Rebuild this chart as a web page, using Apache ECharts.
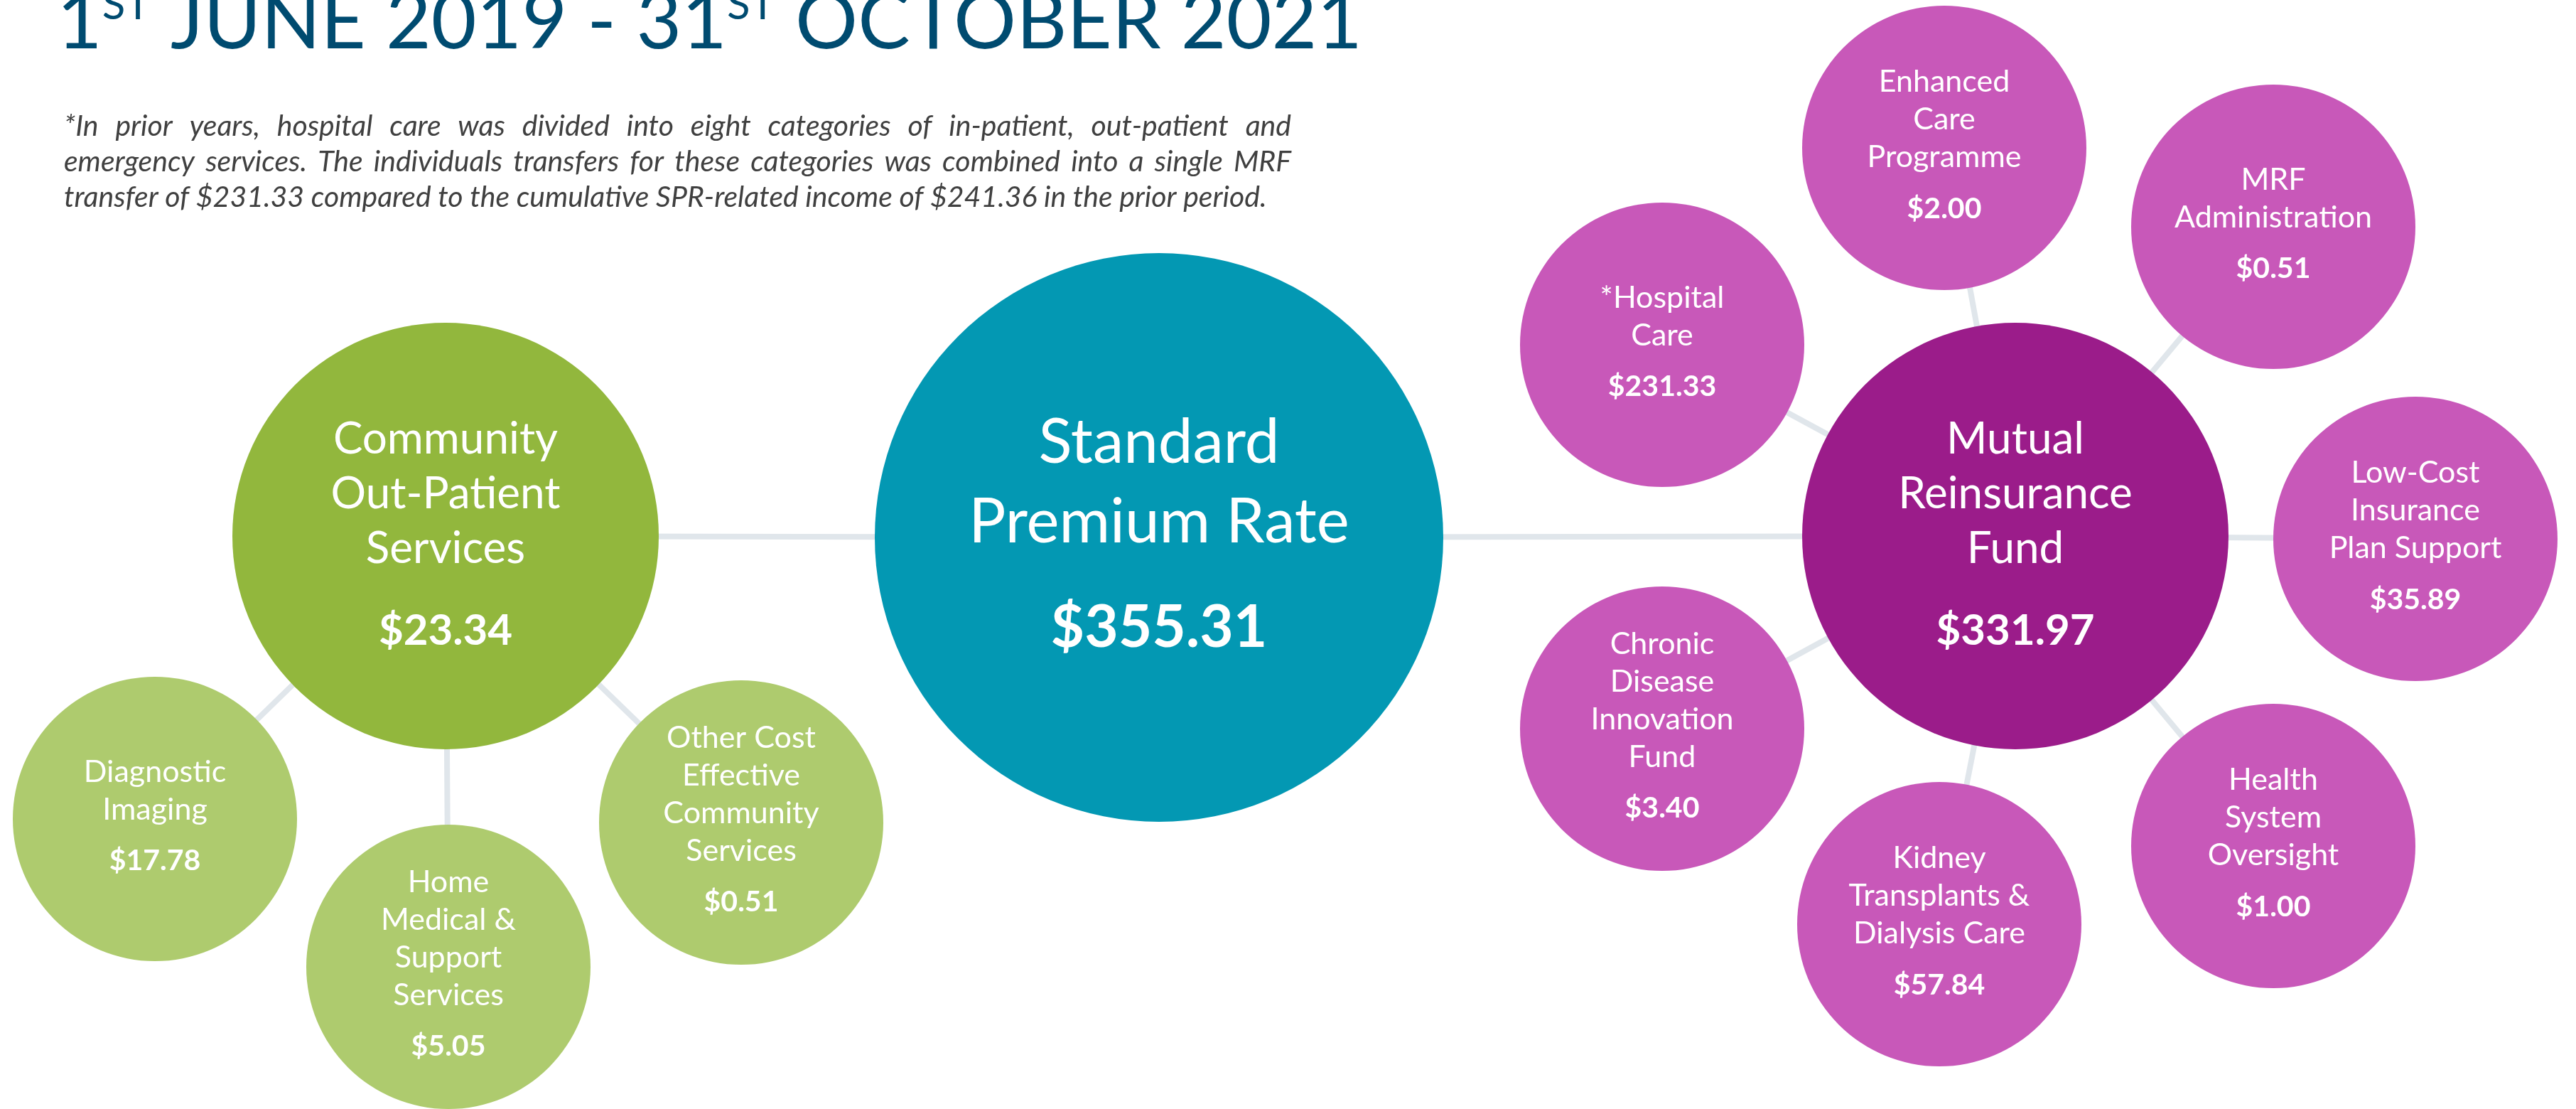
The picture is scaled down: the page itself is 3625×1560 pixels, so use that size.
<!DOCTYPE html>
<html>
<head>
<meta charset="utf-8">
<title>SPR distribution</title>
<script src="https://cdn.jsdelivr.net/npm/echarts@6/dist/echarts.min.js"></script>
<style>
  html, body { margin: 0; padding: 0; background: #fff; }
  #chart { width: 3625px; height: 1560px; }
</style>
</head>
<body>
<div id="chart"></div>
<script>
// ---- data ----
const headline = '1{s|ST} JUNE 2019 - 31{s|ST} OCTOBER 2021';
const noteLines = [
  '*In prior years, hospital care was divided into eight categories of in-patient, out-patient and',
  'emergency services. The individuals transfers for these categories was combined into a single MRF',
  'transfer of $231.33 compared to the cumulative SPR-related income of $241.36 in the prior period.'
];
const nodeLabels = [
  'Standard\nPremium Rate',
  'Community\nOut-Patient\nServices',
  'Diagnostic\nImaging',
  'Home\nMedical &\nSupport\nServices',
  'Other Cost\nEffective\nCommunity\nServices',
  'Mutual\nReinsurance\nFund',
  '*Hospital\nCare',
  'Enhanced\nCare\nProgramme',
  'MRF\nAdministration',
  'Low-Cost\nInsurance\nPlan Support',
  'Health\nSystem\nOversight',
  'Kidney\nTransplants &\nDialysis Care',
  'Chronic\nDisease\nInnovation\nFund'
];
const nodeValues = [355.31, 23.34, 17.78, 5.05, 0.51, 331.97, 231.33, 2.00, 0.51, 35.89, 1.00, 57.84, 3.40];
// which node feeds which (indexes into nodeLabels)
const linkPairs = [[0, 1], [0, 5], [1, 2], [1, 3], [1, 4], [5, 6], [5, 7], [5, 8], [5, 9], [5, 10], [5, 11], [5, 12]];

// ---- layout / style ----
const nodeX = [1631, 627, 218, 631, 1043, 2836, 2339, 2736, 3199, 3399, 3199, 2729, 2339];
const nodeY = [756, 754, 1152, 1360, 1157, 754, 485, 208, 319, 758, 1190, 1300, 1025];
const nodeTier = [0, 1, 2, 2, 2, 1, 2, 2, 2, 2, 2, 2, 2];
const tierSize = [800, 600, 400];
const nodeFill = ['#0398b3', '#92b73d', '#aecb6e', '#aecb6e', '#aecb6e', '#9b1c8a',
  '#c858b9', '#c858b9', '#c858b9', '#c858b9', '#c858b9', '#c858b9', '#c858b9'];
const labelShift = [16, 18, 6, 6, 6, 18, 6, 6, 6, 6, 6, 6, 6];

const FONT = 'Lato';
const NOTE_FONT = 'italic 41px Lato';
const NOTE_WIDTH = 1727;

// justify the note: every line but the last is stretched to NOTE_WIDTH
let ctx = document.createElement('canvas').getContext('2d');
ctx.font = NOTE_FONT;
let noteRich = {};
let noteText = noteLines.map((line, k) => {
  if (k === noteLines.length - 1) return line;
  let words = line.split(' ');
  let used = words.reduce((s, w) => s + ctx.measureText(w).width, 0);
  let gap = (NOTE_WIDTH - used) / (words.length - 1);
  noteRich['g' + k] = { width: gap, font: NOTE_FONT };
  return words.join('{g' + k + '| }');
}).join('\n');

let myChart = echarts.init(document.getElementById('chart'));

let nodes = nodeLabels.map((name, i) => ({
  name: name,
  value: [nodeX[i], nodeY[i]],
  symbolSize: tierSize[nodeTier[i]],
  itemStyle: { color: nodeFill[i] },
  label: { offset: [0, labelShift[i]] }
}));

let links = linkPairs.map(p => ({ source: p[0], target: p[1] }));

let option = {
  animation: false,
  title: {
    text: headline,
    left: 80,
    top: -22,
    padding: 0,
    textStyle: {
      fontFamily: FONT,
      fontSize: 110,
      fontWeight: 'normal',
      color: '#004b70',
      lineHeight: 110,
      rich: {
        s: { fontFamily: FONT, fontSize: 60, color: '#004b70', lineHeight: 44, verticalAlign: 'top' }
      }
    }
  },
  graphic: [{
    type: 'text',
    left: 90,
    top: 153,
    style: {
      text: noteText,
      font: NOTE_FONT,
      fill: '#404040',
      lineHeight: 50,
      rich: noteRich
    }
  }],
  grid: { left: 0, right: 0, top: 0, bottom: 0 },
  xAxis: { type: 'value', min: 0, max: 3625, show: false },
  yAxis: { type: 'value', min: 0, max: 1560, inverse: true, show: false },
  series: [{
    type: 'graph',
    layout: 'none',
    coordinateSystem: 'cartesian2d',
    symbol: 'circle',
    silent: true,
    emphasis: { disabled: true },
    data: nodes,
    links: links,
    lineStyle: { color: '#e0e6eb', width: 8, opacity: 1, curveness: 0 },
    label: {
      show: true,
      position: 'inside',
      color: '#fff',
      align: 'center',
      formatter: function (p) {
        let i = p.dataIndex;
        let t = nodeTier[i];
        let lines = nodeLabels[i].split('\n').map(l => '{n' + t + '|' + l + '}');
        return lines.join('\n') + '\n{v' + t + '|$' + nodeValues[i].toFixed(2) + '}';
      },
      rich: {
        n0: { fontFamily: FONT, fontSize: 87, lineHeight: 112, color: '#fff' },
        v0: { fontFamily: FONT, fontSize: 82, fontWeight: 'bold', lineHeight: 186, color: '#fff' },
        n1: { fontFamily: FONT, fontSize: 62, lineHeight: 77, color: '#fff' },
        v1: { fontFamily: FONT, fontSize: 60, fontWeight: 'bold', lineHeight: 155, color: '#fff' },
        n2: { fontFamily: FONT, fontSize: 43, lineHeight: 53, color: '#fff' },
        v2: { fontFamily: FONT, fontSize: 41, fontWeight: 'bold', lineHeight: 91, color: '#fff' }
      }
    }
  }]
};

myChart.setOption(option);
window.onresize = myChart.resize;
</script>
</body>
</html>
